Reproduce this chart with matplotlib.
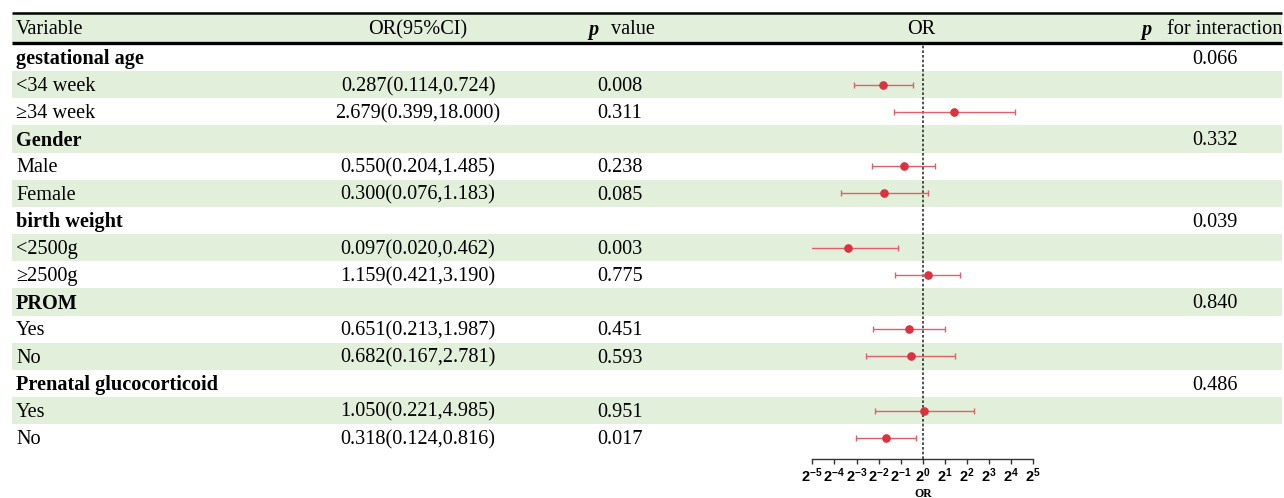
import matplotlib
matplotlib.use("Agg")
import matplotlib.pyplot as plt
from matplotlib.ticker import FixedLocator, NullLocator, FixedFormatter
import numpy as np

plt.rcParams['mathtext.fontset'] = 'custom'
plt.rcParams['mathtext.bf'] = 'Liberation Sans:bold'
plt.rcParams['mathtext.rm'] = 'Liberation Sans'

# ---------------- data ----------------
labels = ["gestational age", "<34 week", "\u226534 week", "Gender", "Male", "Female",
          "birth weight", "<2500g", "\u22652500g", "PROM", "Yes", "No",
          "Prenatal glucocorticoid", "Yes", "No"]
is_group = [True, False, False, True, False, False, True, False, False,
            True, False, False, True, False, False]
or_vals = [np.nan, 0.287, 2.679, np.nan, 0.550, 0.300, np.nan, 0.097, 1.159,
           np.nan, 0.651, 0.682, np.nan, 1.050, 0.318]
ci_low = [np.nan, 0.114, 0.399, np.nan, 0.204, 0.076, np.nan, 0.020, 0.421,
          np.nan, 0.213, 0.167, np.nan, 0.221, 0.124]
ci_high = [np.nan, 0.724, 18.000, np.nan, 1.485, 1.183, np.nan, 0.462, 3.190,
           np.nan, 1.987, 2.781, np.nan, 4.985, 0.816]
or_text = ["", "0.287(0.114,0.724)", "2.679(0.399,18.000)", "", "0.550(0.204,1.485)",
           "0.300(0.076,1.183)", "", "0.097(0.020,0.462)", "1.159(0.421,3.190)", "",
           "0.651(0.213,1.987)", "0.682(0.167,2.781)", "", "1.050(0.221,4.985)",
           "0.318(0.124,0.816)"]
p_text = ["", "0.008", "0.311", "", "0.238", "0.085", "", "0.003", "0.775", "",
          "0.451", "0.593", "", "0.951", "0.017"]
p_inter = ["0.066", "", "", "0.332", "", "", "0.039", "", "", "0.840", "", "",
           "0.486", "", ""]
tick_exps = [-5, -4, -3, -2, -1, 0, 1, 2, 3, 4, 5]

# ---------------- layout ----------------
W, H = 1284, 498
fig = plt.figure(figsize=(W / 100, H / 100), dpi=100)
ax = fig.add_axes([0, 0, 1, 1])
ax.set_xlim(0, W)
ax.set_ylim(H, 0)
ax.axis('off')

green = '#E2EFDA'
x0, x1 = 12, 1282
row_top0 = 44.0
row_h = 27.15
n = len(labels)
serif = 'Liberation Serif'
fs = 14.6
dy = 1.8  # vertical text offset

# header band
ax.axhspan(13.5, 42.5, xmin=x0 / W, xmax=x1 / W, color=green, lw=0, zorder=0)
ax.plot([x0, x1], [13, 13], color='black', lw=1.8, zorder=3, solid_capstyle='butt')
ax.plot([x0, x1], [42.5, 42.5], color='black', lw=2.4, zorder=3, solid_capstyle='butt')

hy = 28 + dy
ax.text(16, hy, "Variable", fontsize=fs, family=serif, va='center', ha='left')
ax.text(418, hy, "OR(95%CI)", fontsize=fs, family=serif, va='center', ha='center')
ax.text(588, hy, "p", fontsize=fs, family=serif, weight='bold', style='italic', va='center', ha='left')
ax.text(611, hy, "value", fontsize=fs, family=serif, va='center', ha='left')
ax.text(921, hy, "OR", fontsize=fs, family=serif, va='center', ha='center')
ax.text(1141, hy, "p", fontsize=fs, family=serif, weight='bold', style='italic', va='center', ha='left')
ax.text(1167, hy, "for interaction", fontsize=fs, family=serif, va='center', ha='left')

for i in range(n):
    top = row_top0 + row_h * i
    yc = top + row_h / 2 + dy
    if i % 2 == 1:
        ax.axhspan(top, top + row_h, xmin=x0 / W, xmax=x1 / W, color=green, lw=0, zorder=0)
    ax.text(16, yc, labels[i], fontsize=fs, family=serif, va='center', ha='left',
            weight='bold' if is_group[i] else 'normal')
    if or_text[i]:
        ax.text(418, yc, or_text[i], fontsize=fs, family=serif, va='center', ha='center')
    if p_text[i]:
        ax.text(620, yc, p_text[i], fontsize=fs, family=serif, va='center', ha='center')
    if p_inter[i]:
        ax.text(1215, yc, p_inter[i], fontsize=fs, family=serif, va='center', ha='center')

# ---------------- forest axes ----------------
fx0, fx1 = 812.3, 1033.3
fy_bot, fy_top = 459.3, 44.0
fax = fig.add_axes([fx0 / W, (H - fy_bot) / H, (fx1 - fx0) / W, (fy_bot - fy_top) / H])
fax.patch.set_alpha(0)
fax.set_xscale('log', base=2)
fax.set_xlim(2.0 ** -5, 2.0 ** 5)
ymin = (fy_bot - (row_top0 + row_h / 2)) / row_h
fax.set_ylim(ymin, -0.5)
for s in ['left', 'right', 'top']:
    fax.spines[s].set_visible(False)
fax.spines['bottom'].set_color('#333333')
fax.spines['bottom'].set_linewidth(1.0)
fax.set_yticks([])
fax.xaxis.set_major_locator(FixedLocator([2.0 ** e for e in tick_exps]))
fax.xaxis.set_minor_locator(NullLocator())
fax.xaxis.set_major_formatter(FixedFormatter([r'$\mathbf{2^{%d}}$' % e for e in tick_exps]))
fax.tick_params(axis='x', direction='out', length=3.5, width=1.0, color='#333333',
                labelsize=10.5, pad=1.5)
fax.set_xlabel("OR", family=serif, weight='bold', fontsize=8.5)
label_y_px = 494.0
fax.xaxis.set_label_coords(0.5, -(label_y_px - fy_bot) / (fy_bot - fy_top))
fax.xaxis.label.set_va('center')

fax.axvline(1.0, color='#333333', lw=1.2, ls=(0, (1.6, 1.2)), zorder=1)

rows = np.arange(n)
orv = np.array(or_vals)
lo = np.array(ci_low)
hi = np.array(ci_high)
m = ~np.isnan(orv)
fax.errorbar(orv[m], rows[m], xerr=[orv[m] - lo[m], hi[m] - orv[m]], fmt='none',
             ecolor='#E0606A', elinewidth=1.0, capsize=2.2, capthick=1.0, zorder=2)
fax.plot(orv[m], rows[m], 'o', color='#D9333F', markersize=5.2, zorder=3)

fig.savefig("out.png", dpi=100)
